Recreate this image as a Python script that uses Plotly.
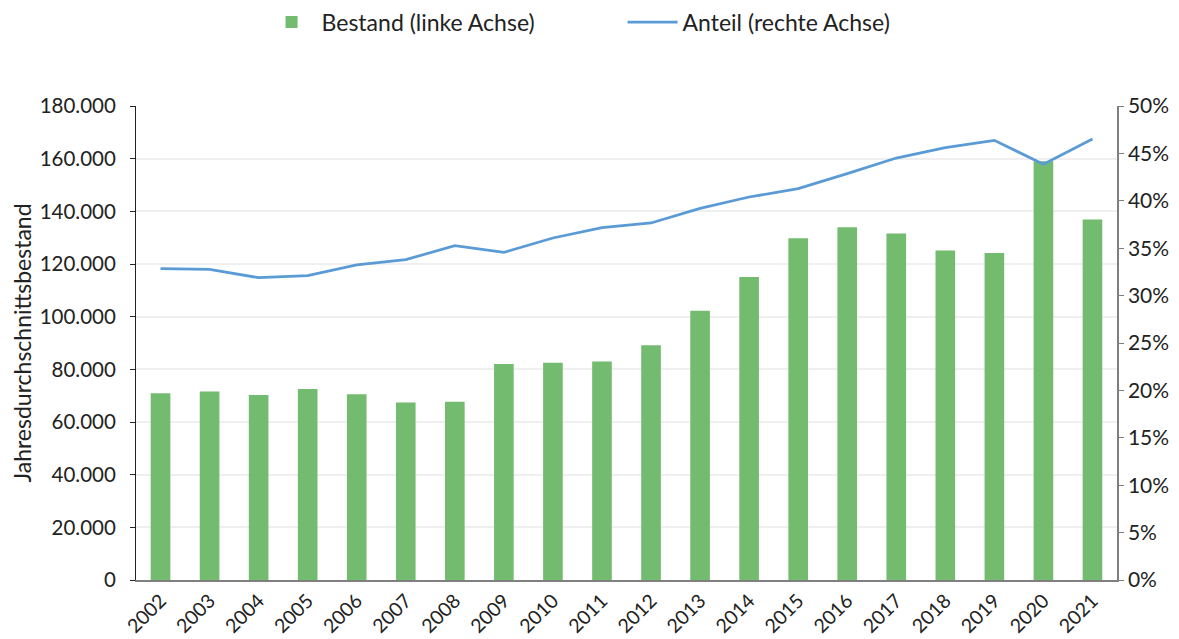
import plotly.graph_objects as go

years = [str(y) for y in range(2002, 2022)]
bestand = [70900, 71600, 70300, 72500, 70500, 67400, 67700, 82000, 82500, 83000,
           89100, 102200, 115100, 129800, 134000, 131600, 125100, 124200, 159000, 136900]
anteil = [0.3284, 0.3277, 0.3189, 0.3210, 0.3323, 0.3379, 0.3527, 0.3456, 0.3608, 0.3717,
          0.3766, 0.3920, 0.4040, 0.4128, 0.4286, 0.4451, 0.4560, 0.4638, 0.4385, 0.4652]

FONT = "Lato, 'DejaVu Sans', sans-serif"

fig = go.Figure()
fig.add_trace(go.Bar(x=years, y=bestand, name="Bestand (linke Achse)",
                     marker=dict(color="#72BB6F", line=dict(width=0)), width=0.4, yaxis="y"))
fig.add_trace(go.Scatter(x=years, y=anteil, name="Anteil (rechte Achse)", mode="lines",
                         line=dict(color="#5B9BD5", width=2.75), yaxis="y2"))

fig.update_layout(
    width=1171, height=631,
    margin=dict(l=128, r=62, t=98, b=59, autoexpand=False),
    paper_bgcolor="white", plot_bgcolor="white",
    separators=",.",
    font=dict(family=FONT, size=20, color="#222222"),
    showlegend=True,
    legend=dict(orientation="h", x=0.128, xanchor="left", y=1.177, yanchor="middle",
                font=dict(size=23), itemwidth=50, entrywidth=296, entrywidthmode="pixels",
                traceorder="normal"),
    xaxis=dict(type="category", tickangle=-45, tickfont=dict(size=19.5),
               showline=True, linecolor="#7f7f7f", linewidth=1.5, ticks="", showgrid=False),
    yaxis=dict(range=[0, 180000], dtick=20000, tickformat=",d", showgrid=True,
               gridcolor="#EFEFEF", gridwidth=1.5, showline=True, linecolor="#222222", linewidth=1,
               ticks="outside", ticklen=5, tickcolor="#222222", zeroline=False,
               ticklabelstandoff=10, tickfont=dict(size=20.5),
               title=dict(text="Jahresdurchschnittsbestand", font=dict(size=23), standoff=6)),
    yaxis2=dict(range=[0, 0.5], dtick=0.05, tickformat=".0%", overlaying="y", side="right",
                showgrid=False, showline=True, linecolor="#7f7f7f", linewidth=1.5,
                ticks="outside", ticklen=5, tickcolor="#7f7f7f", zeroline=False,
                tickfont=dict(size=21)),
    bargap=0.6,
)

fig.write_html("out.html")
